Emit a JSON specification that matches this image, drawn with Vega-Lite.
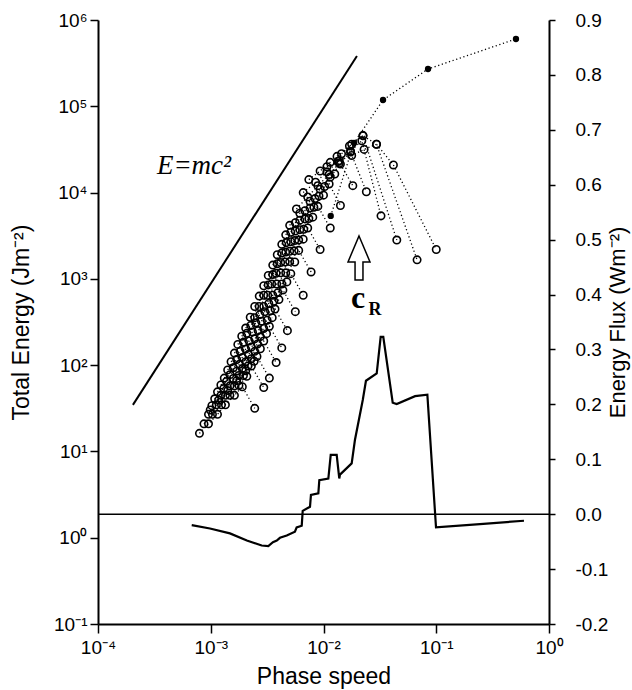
{
 "$schema": "https://vega.github.io/schema/vega-lite/v6.json",
 "width": 451, "height": 604,
 "autosize": {"type": "none"},
 "padding": {"left": 98, "top": 20, "right": 83, "bottom": 66},
 "background": "white",
 "config": {
  "view": {"stroke": null},
  "font": "Liberation Sans",
  "axis": {"domainColor": "black", "domainWidth": 2, "tickColor": "black", "tickWidth": 1.5, "labelColor": "black", "titleColor": "black", "labelFont": "Liberation Sans", "titleFont": "Liberation Sans", "labelFontSize": 19, "titleFontSize": 23, "titleFontWeight": "normal", "grid": false, "labelFlush": false, "labelOverlap": false}
 },
 "datasets": {
  "curves": [
   {"c":1,"i":0,"x":0.000794,"E":16.2},{"c":1,"i":1,"x":0.000955,"E":20.9},{"c":1,"i":2,"x":0.001148,"E":26.9},{"c":1,"i":3,"x":0.001349,"E":34.7},{"c":1,"i":4,"x":0.001622,"E":44.7},{"c":1,"i":5,"x":0.001905,"E":56.2},{"c":1,"i":6,"x":0.002455,"E":31.6},
   {"c":2,"i":0,"x":0.000955,"E":26.9},{"c":2,"i":1,"x":0.001122,"E":34.7},{"c":2,"i":2,"x":0.001349,"E":44.7},{"c":2,"i":3,"x":0.001622,"E":57.5},{"c":2,"i":4,"x":0.00195,"E":75.9},{"c":2,"i":5,"x":0.002291,"E":97.7},{"c":2,"i":6,"x":0.002951,"E":55.0},
   {"c":3,"i":0,"x":0.001023,"E":33.9},{"c":3,"i":1,"x":0.00123,"E":44.7},{"c":3,"i":2,"x":0.001479,"E":57.5},{"c":3,"i":3,"x":0.001778,"E":75.9},{"c":3,"i":4,"x":0.002138,"E":97.7},{"c":3,"i":5,"x":0.00257,"E":125.9},{"c":3,"i":6,"x":0.003311,"E":70.8},
   {"c":4,"i":0,"x":0.001148,"E":49.0},{"c":4,"i":1,"x":0.00138,"E":64.6},{"c":4,"i":2,"x":0.001698,"E":85.1},{"c":4,"i":3,"x":0.002042,"E":109.6},{"c":4,"i":4,"x":0.002455,"E":144.5},{"c":4,"i":5,"x":0.002951,"E":190.5},{"c":4,"i":6,"x":0.003802,"E":107.2},
   {"c":5,"i":0,"x":0.001318,"E":70.8},{"c":5,"i":1,"x":0.001585,"E":93.3},{"c":5,"i":2,"x":0.001905,"E":123.0},{"c":5,"i":3,"x":0.002291,"E":162.2},{"c":5,"i":4,"x":0.002754,"E":213.8},{"c":5,"i":5,"x":0.003311,"E":281.8},{"c":5,"i":6,"x":0.004266,"E":158.5},
   {"c":6,"i":0,"x":0.001514,"E":109.6},{"c":6,"i":1,"x":0.00182,"E":144.5},{"c":6,"i":2,"x":0.002188,"E":190.5},{"c":6,"i":3,"x":0.00263,"E":251.2},{"c":6,"i":4,"x":0.003162,"E":331.1},{"c":6,"i":5,"x":0.003715,"E":446.7},{"c":6,"i":6,"x":0.004786,"E":251.2},
   {"c":7,"i":0,"x":0.001738,"E":173.8},{"c":7,"i":1,"x":0.002089,"E":234.4},{"c":7,"i":2,"x":0.002512,"E":309.0},{"c":7,"i":3,"x":0.00302,"E":416.9},{"c":7,"i":4,"x":0.003631,"E":549.5},{"c":7,"i":5,"x":0.004365,"E":741.3},{"c":7,"i":6,"x":0.005623,"E":416.9},
   {"c":8,"i":0,"x":0.002042,"E":269.2},{"c":8,"i":1,"x":0.002455,"E":354.8},{"c":8,"i":2,"x":0.002951,"E":478.6},{"c":8,"i":3,"x":0.003548,"E":645.7},{"c":8,"i":4,"x":0.004266,"E":871.0},{"c":8,"i":5,"x":0.005129,"E":1148},{"c":8,"i":6,"x":0.006607,"E":645.7},
   {"c":9,"i":0,"x":0.002455,"E":478.6},{"c":9,"i":1,"x":0.002951,"E":645.7},{"c":9,"i":2,"x":0.003467,"E":871.0},{"c":9,"i":3,"x":0.004169,"E":1175},{"c":9,"i":4,"x":0.005012,"E":1585},{"c":9,"i":5,"x":0.006026,"E":2138},{"c":9,"i":6,"x":0.007762,"E":1202},
   {"c":10,"i":0,"x":0.002951,"E":831.8},{"c":10,"i":1,"x":0.003548,"E":1122},{"c":10,"i":2,"x":0.004169,"E":1549},{"c":10,"i":3,"x":0.005012,"E":2089},{"c":10,"i":4,"x":0.006026,"E":2818},{"c":10,"i":5,"x":0.007244,"E":3890},{"c":10,"i":6,"x":0.009333,"E":2188},
   {"c":11,"i":0,"x":0.003548,"E":1445},{"c":11,"i":1,"x":0.004266,"E":1995},{"c":11,"i":2,"x":0.005129,"E":2692},{"c":11,"i":3,"x":0.006166,"E":3715},{"c":11,"i":4,"x":0.007413,"E":5012},{"c":11,"i":5,"x":0.008913,"E":6918},{"c":11,"i":6,"x":0.01148,"E":3890},
   {"c":12,"i":0,"x":0.004266,"E":2512},{"c":12,"i":1,"x":0.005129,"E":3467},{"c":12,"i":2,"x":0.006166,"E":4786},{"c":12,"i":3,"x":0.007586,"E":6607},{"c":12,"i":4,"x":0.00912,"E":9120},{"c":12,"i":5,"x":0.01122,"E":12590},{"c":12,"i":6,"x":0.01413,"E":7079},
   {"c":13,"i":0,"x":0.005012,"E":4169},{"c":13,"i":1,"x":0.006166,"E":5754},{"c":13,"i":2,"x":0.007586,"E":7943},{"c":13,"i":3,"x":0.009333,"E":10960},{"c":13,"i":4,"x":0.01148,"E":15140},{"c":13,"i":5,"x":0.01413,"E":21380},{"c":13,"i":6,"x":0.0182,"E":12020},
   {"c":14,"i":0,"x":0.005754,"E":6457},{"c":14,"i":1,"x":0.007244,"E":8913},{"c":14,"i":2,"x":0.008913,"E":12020},{"c":14,"i":3,"x":0.01122,"E":16220},{"c":14,"i":4,"x":0.0138,"E":21880},{"c":14,"i":5,"x":0.01738,"E":29510},{"c":14,"i":6,"x":0.02399,"E":10230},
   {"c":15,"i":0,"x":0.006607,"E":10000},{"c":15,"i":1,"x":0.008511,"E":13180},{"c":15,"i":2,"x":0.01072,"E":17380},{"c":15,"i":3,"x":0.01349,"E":22910},{"c":15,"i":4,"x":0.01738,"E":30200},{"c":15,"i":5,"x":0.02188,"E":39810},{"c":15,"i":6,"x":0.03236,"E":5370},
   {"c":16,"i":0,"x":0.007413,"E":14130},{"c":16,"i":1,"x":0.009333,"E":17780},{"c":16,"i":2,"x":0.01148,"E":22390},{"c":16,"i":3,"x":0.01445,"E":28180},{"c":16,"i":4,"x":0.01778,"E":36310},{"c":16,"i":5,"x":0.02239,"E":45710},{"c":16,"i":6,"x":0.04467,"E":2818},
   {"c":17,"i":0,"x":0.01072,"E":19950},{"c":17,"i":1,"x":0.0138,"E":23440},{"c":17,"i":2,"x":0.01778,"E":26920},{"c":17,"i":3,"x":0.02291,"E":31620},{"c":17,"i":4,"x":0.02951,"E":36310},{"c":17,"i":5,"x":0.06761,"E":1660},
   {"c":18,"i":0,"x":0.01318,"E":26300},{"c":18,"i":1,"x":0.01698,"E":34670},{"c":18,"i":2,"x":0.02239,"E":45710},{"c":18,"i":3,"x":0.02951,"E":36310},{"c":18,"i":4,"x":0.04169,"E":20890},{"c":18,"i":5,"x":0.1,"E":2188},
   {"c":101,"i":0,"x":0.000871,"E":20.89},{"c":101,"i":1,"x":0.001035,"E":26.92},{"c":101,"i":2,"x":0.001245,"E":34.67},{"c":101,"i":3,"x":0.001479,"E":44.67},{"c":101,"i":4,"x":0.001778,"E":58.21},{"c":101,"i":5,"x":0.002089,"E":74.13},
   {"c":102,"i":0,"x":0.000989,"E":30.2},{"c":102,"i":1,"x":0.001175,"E":39.36},{"c":102,"i":2,"x":0.001413,"E":50.7},{"c":102,"i":3,"x":0.001698,"E":66.07},{"c":102,"i":4,"x":0.002042,"E":86.1},{"c":102,"i":5,"x":0.002427,"E":110.9},
   {"c":103,"i":0,"x":0.001084,"E":40.74},{"c":103,"i":1,"x":0.001303,"E":53.7},{"c":103,"i":2,"x":0.001585,"E":69.98},{"c":103,"i":3,"x":0.001905,"E":91.2},{"c":103,"i":4,"x":0.002291,"E":118.9},{"c":103,"i":5,"x":0.002754,"E":154.9},
   {"c":104,"i":0,"x":0.00123,"E":58.88},{"c":104,"i":1,"x":0.001479,"E":77.62},{"c":104,"i":2,"x":0.001799,"E":102.3},{"c":104,"i":3,"x":0.002163,"E":133.4},{"c":104,"i":4,"x":0.0026,"E":175.8},{"c":104,"i":5,"x":0.003126,"E":231.7},
   {"c":105,"i":0,"x":0.001413,"E":88.1},{"c":105,"i":1,"x":0.001698,"E":116.1},{"c":105,"i":2,"x":0.002042,"E":153.1},{"c":105,"i":3,"x":0.002455,"E":201.8},{"c":105,"i":4,"x":0.002951,"E":266.1},{"c":105,"i":5,"x":0.003508,"E":354.8},
   {"c":106,"i":0,"x":0.001622,"E":138.0},{"c":106,"i":1,"x":0.00195,"E":184.1},{"c":106,"i":2,"x":0.002344,"E":242.7},{"c":106,"i":3,"x":0.002818,"E":323.6},{"c":106,"i":4,"x":0.003388,"E":426.6},{"c":106,"i":5,"x":0.004027,"E":575.4},
   {"c":107,"i":0,"x":0.001884,"E":216.3},{"c":107,"i":1,"x":0.002265,"E":288.4},{"c":107,"i":2,"x":0.002723,"E":384.6},{"c":107,"i":3,"x":0.003273,"E":518.8},{"c":107,"i":4,"x":0.003936,"E":691.8},{"c":107,"i":5,"x":0.004732,"E":922.6},
   {"c":108,"i":0,"x":0.002239,"E":358.9},{"c":108,"i":1,"x":0.002692,"E":478.6},{"c":108,"i":2,"x":0.003199,"E":645.7},{"c":108,"i":3,"x":0.003846,"E":871.0},{"c":108,"i":4,"x":0.004624,"E":1175},{"c":108,"i":5,"x":0.005559,"E":1567},
   {"c":109,"i":0,"x":0.002692,"E":631.0},{"c":109,"i":1,"x":0.003236,"E":851.1},{"c":109,"i":2,"x":0.003802,"E":1161},{"c":109,"i":3,"x":0.004571,"E":1567},{"c":109,"i":4,"x":0.005495,"E":2113},{"c":109,"i":5,"x":0.006607,"E":2884},
   {"c":110,"i":0,"x":0.003236,"E":1096},{"c":110,"i":1,"x":0.00389,"E":1496},{"c":110,"i":2,"x":0.004624,"E":2042},{"c":110,"i":3,"x":0.005559,"E":2786},{"c":110,"i":4,"x":0.006683,"E":3758},{"c":110,"i":5,"x":0.008035,"E":5188},
   {"c":111,"i":0,"x":0.00389,"E":1905},{"c":111,"i":1,"x":0.004677,"E":2630},{"c":111,"i":2,"x":0.005623,"E":3589},{"c":111,"i":3,"x":0.006839,"E":4955},{"c":111,"i":4,"x":0.008222,"E":6761},{"c":111,"i":5,"x":0.01,"E":9333},
   {"c":112,"i":0,"x":0.004624,"E":3236},{"c":112,"i":1,"x":0.005623,"E":4467},{"c":112,"i":2,"x":0.006839,"E":6166},{"c":112,"i":3,"x":0.008414,"E":8511},{"c":112,"i":4,"x":0.01023,"E":11750},{"c":112,"i":5,"x":0.01259,"E":16410}
  ],
  "filled": [
   {"i":0,"x":0.01159,"E":5358},{"i":1,"x":0.01866,"E":37580},{"i":2,"x":0.03373,"E":118300},{"i":3,"x":0.08453,"E":270400},{"i":4,"x":0.5093,"E":602600}
  ],
  "mc2": [{"x":0.000204,"E":34.6},{"x":0.0198,"E":383000}],
  "xminor": [
   {"x":0.0002},{"x":0.0003},{"x":0.0004},{"x":0.0005},{"x":0.0006},{"x":0.0007},{"x":0.0008},{"x":0.0009},
   {"x":0.002},{"x":0.003},{"x":0.004},{"x":0.005},{"x":0.006},{"x":0.007},{"x":0.008},{"x":0.009},
   {"x":0.02},{"x":0.03},{"x":0.04},{"x":0.05},{"x":0.06},{"x":0.07},{"x":0.08},{"x":0.09},
   {"x":0.2},{"x":0.3},{"x":0.4},{"x":0.5},{"x":0.6},{"x":0.7},{"x":0.8},{"x":0.9}
  ],
  "yminor": [
   {"E":0.2},{"E":0.3},{"E":0.4},{"E":0.5},{"E":0.6},{"E":0.7},{"E":0.8},{"E":0.9},
   {"E":2},{"E":3},{"E":4},{"E":5},{"E":6},{"E":7},{"E":8},{"E":9},
   {"E":20},{"E":30},{"E":40},{"E":50},{"E":60},{"E":70},{"E":80},{"E":90},
   {"E":200},{"E":300},{"E":400},{"E":500},{"E":600},{"E":700},{"E":800},{"E":900},
   {"E":2000},{"E":3000},{"E":4000},{"E":5000},{"E":6000},{"E":7000},{"E":8000},{"E":9000},
   {"E":20000},{"E":30000},{"E":40000},{"E":50000},{"E":60000},{"E":70000},{"E":80000},{"E":90000},
   {"E":200000},{"E":300000},{"E":400000},{"E":500000},{"E":600000},{"E":700000},{"E":800000},{"E":900000}
  ],
  "flux": [
   {"i":0,"x":0.000678,"f":-0.020},{"i":1,"x":0.000984,"f":-0.026},{"i":2,"x":0.00148,"f":-0.035},{"i":3,"x":0.00209,"f":-0.048},{"i":4,"x":0.00283,"f":-0.057},{"i":5,"x":0.00324,"f":-0.058},{"i":6,"x":0.00356,"f":-0.051},{"i":7,"x":0.00385,"f":-0.048},{"i":8,"x":0.00411,"f":-0.043},{"i":9,"x":0.00472,"f":-0.039},{"i":10,"x":0.00558,"f":-0.032},{"i":11,"x":0.00578,"f":-0.024},{"i":12,"x":0.00641,"f":-0.021},{"i":13,"x":0.00654,"f":0.006},{"i":14,"x":0.00759,"f":0.0135},{"i":15,"x":0.00774,"f":0.035},{"i":16,"x":0.0090,"f":0.038},{"i":17,"x":0.00918,"f":0.062},{"i":18,"x":0.01104,"f":0.065},{"i":19,"x":0.01159,"f":0.108},{"i":20,"x":0.01309,"f":0.108},{"i":21,"x":0.0138,"f":0.065},{"i":22,"x":0.0140,"f":0.072},{"i":23,"x":0.01778,"f":0.0925},{"i":24,"x":0.0190,"f":0.135},{"i":25,"x":0.0223,"f":0.208},{"i":26,"x":0.0238,"f":0.243},{"i":27,"x":0.02965,"f":0.2565},{"i":28,"x":0.03214,"f":0.323},{"i":29,"x":0.0339,"f":0.323},{"i":30,"x":0.0411,"f":0.203},{"i":31,"x":0.0446,"f":0.2005},{"i":32,"x":0.0649,"f":0.215},{"i":33,"x":0.0834,"f":0.2175},{"i":34,"x":0.0995,"f":-0.024},{"i":35,"x":0.244,"f":-0.018},{"i":36,"x":0.60,"f":-0.012}
  ]
 },
 "layer": [
  {
   "encoding": {
    "x": {"field": "x", "type": "quantitative", "scale": {"type": "log", "domain": [0.0001, 1], "nice": false},
     "axis": {"title": "Phase speed", "titlePadding": 8, "values": [0.0001, 0.001, 0.01, 0.1, 1],
      "labelExpr": "'10' + ['⁻⁴','⁻³','⁻²','⁻¹','⁰'][round(log(datum.value)/LN10)+4]",
      "tickSize": 9, "labelPadding": 5}},
    "y": {"field": "E", "type": "quantitative", "scale": {"type": "log", "domain": [0.1, 1000000], "nice": false},
     "axis": {"title": "Total Energy (Jm⁻²)", "titlePadding": 20, "values": [0.1, 1, 10, 100, 1000, 10000, 100000, 1000000],
      "labelExpr": "'10' + ['⁻¹','⁰','¹','²','³','⁴','⁵','⁶'][round(log(datum.value)/LN10)+1]",
      "tickSize": 8, "labelPadding": 3}}
   },
   "layer": [
    {"data": {"name": "xminor"}, "mark": {"type": "tick", "orient": "vertical", "color": "black", "size": 6, "thickness": 1.5, "yOffset": 3, "opacity": 1},
     "encoding": {"y": {"datum": 0.1}}},
    {"data": {"name": "yminor"}, "mark": {"type": "tick", "orient": "horizontal", "color": "black", "size": 5, "thickness": 1.5, "xOffset": -2.5, "opacity": 1},
     "encoding": {"x": {"datum": 0.0001}}},
    {"data": {"name": "mc2"}, "mark": {"type": "line", "color": "black", "strokeWidth": 2}},
    {"data": {"name": "curves"}, "mark": {"type": "line", "color": "black", "strokeWidth": 1.3, "strokeDash": [1.2, 2.6]},
     "encoding": {"detail": {"field": "c"}, "order": {"field": "i"}}},
    {"data": {"name": "filled"}, "mark": {"type": "line", "color": "black", "strokeWidth": 1.3, "strokeDash": [1.2, 2.6]},
     "encoding": {"order": {"field": "i"}}},
    {"data": {"name": "curves"}, "mark": {"type": "point", "filled": false, "stroke": "black", "strokeWidth": 1.6, "size": 55, "opacity": 1}},
    {"data": {"name": "filled"}, "mark": {"type": "point", "filled": true, "color": "black", "size": 40, "opacity": 1}},
    {"data": {"values": [{"x": 0.000333, "E": 16400, "t": "E=mc²"}]},
     "mark": {"type": "text", "font": "Liberation Serif", "fontStyle": "italic", "fontSize": 27, "align": "left", "baseline": "alphabetic", "color": "black"},
     "encoding": {"text": {"field": "t"}}},
    {"data": {"values": [{"x": 0.02023, "E": 460, "t": "c"}]},
     "mark": {"type": "text", "font": "Liberation Serif", "fontWeight": "bold", "fontSize": 32, "align": "center", "baseline": "alphabetic", "color": "black"},
     "encoding": {"text": {"field": "t"}}},
    {"data": {"values": [{"x": 0.0286, "E": 382, "t": "R"}]},
     "mark": {"type": "text", "font": "Liberation Serif", "fontWeight": "bold", "fontSize": 18, "align": "center", "baseline": "alphabetic", "color": "black"},
     "encoding": {"text": {"field": "t"}}},
    {"data": {"values": [{"x": 0.02065, "E": 1746}]},
     "mark": {"type": "point", "shape": "M0,-1L0.5,0.18L0.18,0.18L0.18,1L-0.18,1L-0.18,0.18L-0.5,0.18Z", "size": 1936, "filled": true, "fill": "white", "stroke": "black", "strokeWidth": 1.5, "opacity": 1}}
   ]
  },
  {
   "encoding": {
    "y": {"field": "f", "type": "quantitative", "scale": {"domain": [-0.2, 0.9], "nice": false, "zero": false},
     "axis": {"orient": "right", "title": "Energy Flux (Wm⁻²)", "titleAngle": -90, "titleBaseline": "top", "titlePadding": 0, "titleFontSize": 22, "values": [-0.2,-0.1,0,0.1,0.2,0.3,0.4,0.5,0.6,0.7,0.8,0.9], "labelExpr": "replace(format(datum.value, '.1f'), '−', '-')", "tickSize": 6, "labelPadding": 20}}
   },
   "layer": [
    {"data": {"values": [{"f": 0}]}, "mark": {"type": "rule", "color": "black", "strokeWidth": 1.5}},
    {"data": {"name": "flux"}, "mark": {"type": "line", "color": "black", "strokeWidth": 2.2},
     "encoding": {"x": {"field": "x", "type": "quantitative", "scale": {"type": "log", "domain": [0.0001, 1], "nice": false},
      "axis": {"title": "Phase speed", "titlePadding": 8, "values": [0.0001, 0.001, 0.01, 0.1, 1],
       "labelExpr": "'10' + ['⁻⁴','⁻³','⁻²','⁻¹','⁰'][round(log(datum.value)/LN10)+4]",
       "tickSize": 9, "labelPadding": 5}},
      "order": {"field": "i"}}}
   ]
  }
 ],
 "resolve": {"scale": {"y": "independent"}}
}
